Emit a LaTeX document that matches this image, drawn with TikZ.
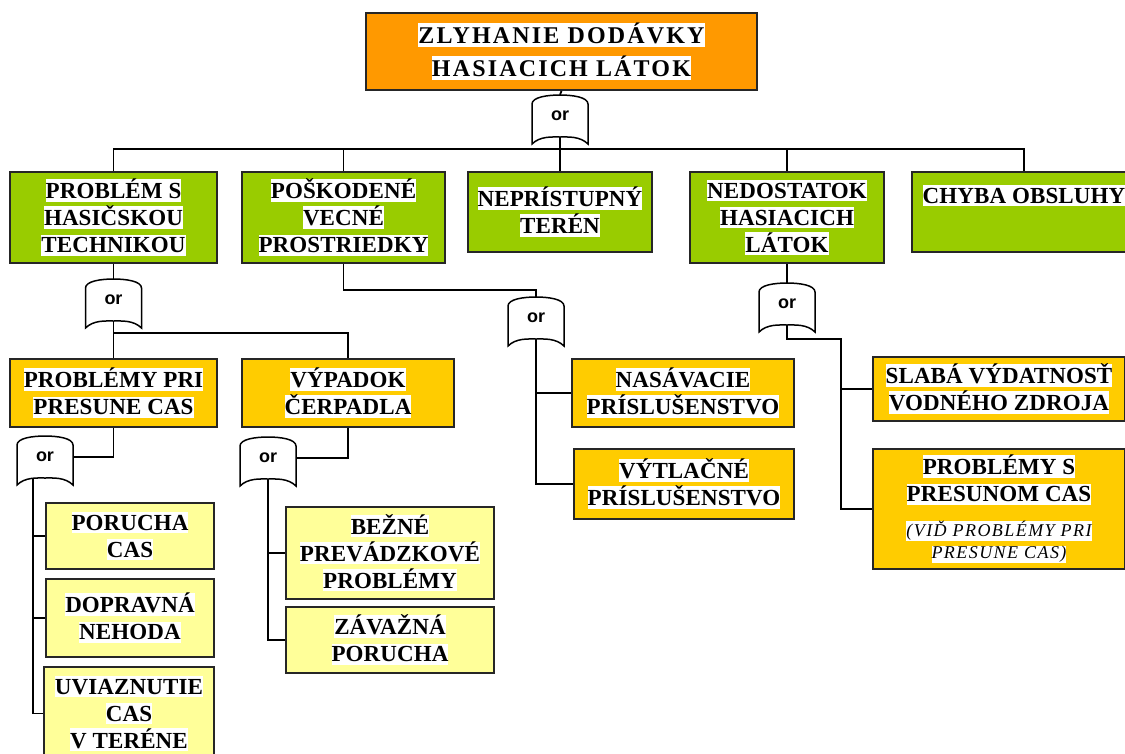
\documentclass[tikz,border=0pt]{standalone}
\usepackage{fontspec}
\setmainfont{Liberation Serif}
\newfontfamily\boxfont{Liberation Serif}[LetterSpace=0.5]
\newfontfamily\titlefont{Liberation Serif}[LetterSpace=9]
\newfontfamily\notefont{Liberation Serif}[LetterSpace=8]
\newfontfamily\gatefont{Liberation Sans}
\definecolor{topfill}{HTML}{FF9900}
\definecolor{catfill}{HTML}{99CC00}
\definecolor{subfill}{HTML}{FFCC00}
\definecolor{leaffill}{HTML}{FFFF99}
\setlength{\fboxsep}{0pt}
\newcommand{\hl}[1]{\colorbox{white}{\rule[-3pt]{0pt}{21pt}#1}}
\newcommand{\hlt}[1]{\colorbox{white}{\rule[-4pt]{0pt}{22pt}#1}}
\newcommand{\hli}[1]{\colorbox{white}{\notefont\mdseries\itshape\fontsize{18}{22}\selectfont\rule[-4pt]{0pt}{17pt}#1}}

\begin{document}
\begin{tikzpicture}[x=1pt,y=-1pt,
box/.style={draw=black!85,line width=1.8pt,align=center,inner sep=0pt,font=\boxfont\bfseries\fontsize{23}{27}\selectfont},
topbox/.style={box,fill=topfill,font=\titlefont\bfseries\fontsize{24}{33}\selectfont},
catbox/.style={box,fill=catfill},
subbox/.style={box,fill=subfill},
leafbox/.style={box,fill=leaffill},
orgate/.style={minimum width=56pt,minimum height=42pt,inner sep=0pt,font=\gatefont\bfseries\fontsize{18}{18}\selectfont},
link/.style={line width=1.8pt}
]
\useasboundingbox (0,0) rectangle (1125,753);
\clip (0,0) rectangle (1125,753);

\node[topbox,minimum width=391pt,minimum height=77pt] (top) at (561.5,51.5) {\hlt{ZLYHANIE DODÁVKY}\\\hlt{HASIACICH LÁTOK}};
\node[orgate] (gtop) at (560,116) {or};

\node[catbox,minimum width=207pt,minimum height=91pt] (g1) at (113.5,217.5) {\hl{PROBLÉM S}\\\hl{HASIČSKOU}\\\hl{TECHNIKOU}};
\node[catbox,minimum width=203pt,minimum height=91pt] (g2) at (343.5,217.5) {\hl{POŠKODENÉ}\\\hl{VECNÉ}\\\hl{PROSTRIEDKY}};
\node[catbox,minimum width=184pt,minimum height=80pt] (g3) at (560,212) {\hl{NEPRÍSTUPNÝ}\\\hl{TERÉN}};
\node[catbox,minimum width=194pt,minimum height=91pt] (g4) at (787,217.5) {\hl{NEDOSTATOK}\\\hl{HASIACICH}\\\hl{LÁTOK}};
\node[catbox,minimum width=224pt,minimum height=80pt] (g5) at (1024,212) {\hl{CHYBA OBSLUHY}\\\strut};

\node[orgate] (ga) at (113.5,300) {or};
\node[subbox,minimum width=207pt,minimum height=68pt] (o1) at (113.5,393) {\hl{PROBLÉMY PRI}\\\hl{PRESUNE CAS}};
\node[subbox,minimum width=212pt,minimum height=68pt] (o2) at (348,393) {\hl{VÝPADOK}\\\hl{ČERPADLA}};

\node[orgate] (gb) at (45,457) {or};
\node[leafbox,minimum width=168pt,minimum height=66pt] (y1) at (130,536) {\hl{PORUCHA}\\\hl{CAS}};
\node[leafbox,minimum width=168pt,minimum height=78pt] (y2) at (130,618) {\hl{DOPRAVNÁ}\\\hl{NEHODA}};
\node[leafbox,minimum width=170pt,minimum height=93pt] (y3) at (129,713.5) {\hl{UVIAZNUTIE}\\\hl{CAS}\\\hl{V TERÉNE}};

\node[orgate] (gc) at (268,458) {or};
\node[leafbox,minimum width=208pt,minimum height=92pt] (y4) at (390,553) {\hl{BEŽNÉ}\\\hl{PREVÁDZKOVÉ}\\\hl{PROBLÉMY}};
\node[leafbox,minimum width=208pt,minimum height=66pt] (y5) at (390,640) {\hl{ZÁVAŽNÁ}\\\hl{PORUCHA}};

\node[orgate] (gd) at (536,318) {or};
\node[subbox,minimum width=222pt,minimum height=68pt] (o3) at (683,393) {\hl{NASÁVACIE}\\\hl{PRÍSLUŠENSTVO}};
\node[subbox,minimum width=220pt,minimum height=70pt] (o4) at (684,484) {\hl{VÝTLAČNÉ}\\\hl{PRÍSLUŠENSTVO}};

\node[orgate] (ge) at (787,304) {or};
\node[subbox,minimum width=252pt,minimum height=64pt] (o5) at (999,389) {\hl{SLABÁ VÝDATNOSŤ}\\\hl{VODNÉHO ZDROJA}};
\node[subbox,minimum width=252pt,minimum height=120pt] (o6) at (999,509) {\hl{PROBLÉMY S}\\\hl{PRESUNOM CAS}\\[8pt]\hli{(VIĎ PROBLÉMY PRI}\\[-5pt]\hli{PRESUNE CAS)}};

\foreach \g in {gtop,ga,gb,gc,gd,ge}
  \draw[line width=1.5pt,shift={(\g.center)}] (-28,28) -- (-28,-12) .. controls (-28,-19) and (-12,-21) .. (0,-21) .. controls (12,-21) and (28,-19) .. (28,-12) -- (28,28) .. controls (20,20) and (8,21) .. (0,21) .. controls (-8,21) and (-20,20) .. (-28,28) -- cycle;

\coordinate (bus) at (560,149);
\coordinate (busa) at (113.5,333);
\draw[link] (top.south) -- (gtop.north);
\draw[link] (gtop.south) -- (g3.north);
\foreach \b in {g1,g2,g4,g5}
  \draw[link] (bus) -| (\b.north);
\draw[link] (g1.south) -- (ga.north);
\draw[link] (ga.south) -- (o1.north);
\draw[link] (busa) -| (o2.north);
\draw[link] (o1.south) |- (gb.east);
\foreach \b in {y1,y2,y3}
  \draw[link] ([xshift=-12pt]gb.south) |- (\b.west);
\draw[link] (o2.south) |- (gc.east);
\foreach \b in {y4,y5}
  \draw[link] (gc.south) |- (\b.west);
\draw[link] (g2.south) -- ++(0,26) -| (gd.north);
\foreach \b in {o3,o4}
  \draw[link] (gd.south) |- (\b.west);
\draw[link] (g4.south) -- (ge.north);
\draw[link] (ge.south) -- ++(0,14) -| ([xshift=-31pt]o6.west) -- (o6.west);
\draw[link] ([xshift=-31pt]o5.west) -- (o5.west);
\end{tikzpicture}
\end{document}
